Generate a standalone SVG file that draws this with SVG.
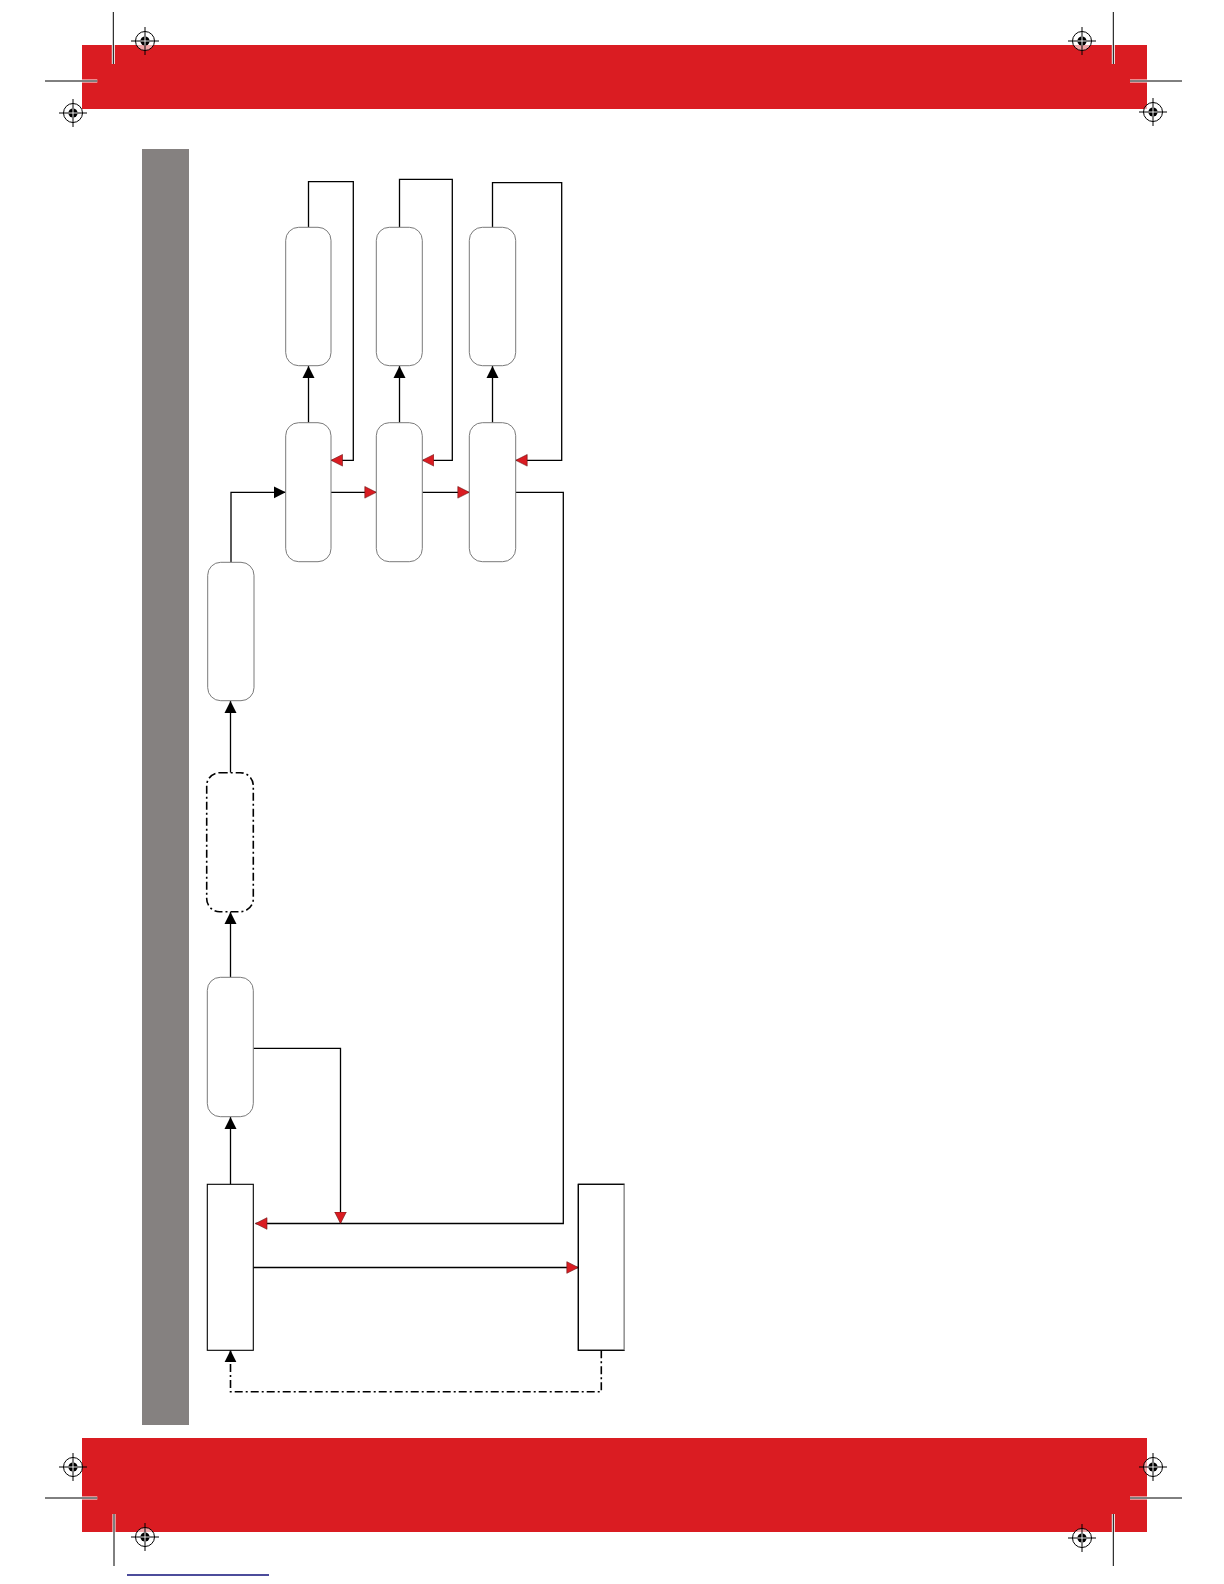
<svg xmlns="http://www.w3.org/2000/svg" xmlns:xlink="http://www.w3.org/1999/xlink" width="1224" height="1584" viewBox="0 0 1224 1584">
  <style>
    .band { fill: #DA1C22; }
    .crop { stroke: #000; stroke-width: 1; fill: none; }
    .halo { stroke: #fff; stroke-width: 3; fill: none; }
    .rnode { fill: #fff; stroke: #7a7a7a; stroke-width: 1; }
    .dnode { fill: #fff; stroke: #000; stroke-width: 1.6; stroke-dasharray: 8,3,2,3; }
    .box { fill: #fff; stroke: #000; stroke-width: 1.1; }
    .wire { fill: none; stroke: #000; stroke-width: 1.3; }
    .blk { marker-end: url(#ah); }
    .red { marker-end: url(#ahr); }
    .dd { stroke-dasharray: 8,3,2,3; stroke-width: 1.6; }
  </style>
  <defs>
    <marker id="ah" markerUnits="userSpaceOnUse" markerWidth="14" markerHeight="14" refX="12" refY="7" orient="auto" viewBox="0 0 14 14">
      <path d="M0,1 L12,7 L0,13 z" fill="#000"/>
    </marker>
    <marker id="ahr" markerUnits="userSpaceOnUse" markerWidth="14" markerHeight="14" refX="12" refY="7" orient="auto" viewBox="0 0 14 14">
      <path d="M0.5,1.2 L12,7 L0.5,12.8 z" fill="#DA1C22" stroke="#6b1414" stroke-width="0.6"/>
    </marker>
    <g id="reg">
      <circle r="9.5" fill="#fff" fill-opacity="0.6" stroke="#000" stroke-width="1"/>
      <line x1="-14" y1="0" x2="14" y2="0" stroke="#000" stroke-width="1"/>
      <line x1="0" y1="-14" x2="0" y2="14" stroke="#000" stroke-width="1"/>
      <circle r="4.6" fill="#000"/>
      <line x1="-4.6" y1="0" x2="4.6" y2="0" stroke="#fff" stroke-width="0.9"/>
      <line x1="0" y1="-4.6" x2="0" y2="4.6" stroke="#fff" stroke-width="0.9"/>
    </g>
  </defs>

  <rect width="1224" height="1584" fill="#fff"/>

  <!-- page frame -->
  <g id="header">
    <rect class="band" x="82" y="45" width="1065" height="64"/>
    <line class="halo" x1="113.3" y1="45" x2="113.3" y2="64"/>
    <line class="crop" x1="113.3" y1="12" x2="113.3" y2="64"/>
    <line class="halo" x1="82" y1="81" x2="97.3" y2="81"/>
    <line class="crop" x1="45" y1="81" x2="97.3" y2="81"/>
    <line class="halo" x1="1113.3" y1="45" x2="1113.3" y2="64"/>
    <line class="crop" x1="1113.3" y1="12" x2="1113.3" y2="64"/>
    <line class="halo" x1="1130" y1="81" x2="1147" y2="81"/>
    <line class="crop" x1="1130" y1="81" x2="1182" y2="81"/>
    <use xlink:href="#reg" href="#reg" x="145" y="41"/>
    <use xlink:href="#reg" href="#reg" x="73" y="113"/>
    <use xlink:href="#reg" href="#reg" x="1082" y="41"/>
    <use xlink:href="#reg" href="#reg" x="1153" y="112"/>
  </g>
  <g id="footer">
    <rect class="band" x="82" y="1438" width="1065" height="94"/>
    <line class="halo" x1="82" y1="1498" x2="97.3" y2="1498"/>
    <line class="crop" x1="45" y1="1498" x2="97.3" y2="1498"/>
    <line class="halo" x1="114" y1="1514" x2="114" y2="1532"/>
    <line class="crop" x1="114" y1="1514" x2="114" y2="1566"/>
    <line class="halo" x1="1130" y1="1498" x2="1147" y2="1498"/>
    <line class="crop" x1="1130" y1="1498" x2="1182" y2="1498"/>
    <line class="halo" x1="1113.3" y1="1514" x2="1113.3" y2="1532"/>
    <line class="crop" x1="1113.3" y1="1514" x2="1113.3" y2="1566"/>
    <use xlink:href="#reg" href="#reg" x="73" y="1467"/>
    <use xlink:href="#reg" href="#reg" x="145" y="1537"/>
    <use xlink:href="#reg" href="#reg" x="1153" y="1467"/>
    <use xlink:href="#reg" href="#reg" x="1082" y="1538"/>
    <line x1="127" y1="1575" x2="269" y2="1575" stroke="#10107a" stroke-width="1.3"/>
  </g>
  <rect id="sidebar" x="142" y="149" width="47" height="1276" fill="#858180"/>

  <!-- connectors -->
  <g id="connectors">
    <path class="wire blk" d="M230.5,1184.3 L230.5,1117"/>
    <path class="wire blk" d="M230.5,977.3 L230.5,912"/>
    <path class="wire blk" d="M230.5,772.7 L230.5,701"/>
    <path class="wire blk" d="M231,562.3 L231,492.3 L285.7,492.3"/>
    <path class="wire red" d="M331,492.3 L376.3,492.3"/>
    <path class="wire red" d="M422.3,492.3 L469.3,492.3"/>
    <path class="wire blk" d="M308.5,422.7 L308.5,366"/>
    <path class="wire blk" d="M399.5,422.7 L399.5,366"/>
    <path class="wire blk" d="M492.5,422.7 L492.5,366"/>
    <path class="wire red" d="M308.5,227.3 L308.5,181.7 L353.3,181.7 L353.3,460.3 L331,460.3"/>
    <path class="wire red" d="M399.5,227.3 L399.5,179.3 L452.3,179.3 L452.3,460.3 L422.3,460.3"/>
    <path class="wire red" d="M492.5,227.3 L492.5,182.7 L561.7,182.7 L561.7,460.3 L515.7,460.3"/>
    <path class="wire red" d="M515.7,492.3 L563.3,492.3 L563.3,1223.5 L255.5,1223.5"/>
    <path class="wire red" d="M253.3,1048.3 L340.5,1048.3 L340.5,1223.5"/>
    <path class="wire red" d="M253.3,1267.5 L578.3,1267.5"/>
    <path class="wire blk dd" d="M601.3,1350.3 L601.3,1391.7 L230.5,1391.7 L230.5,1350.3"/>
  </g>

  <!-- nodes -->
  <g id="node-t1"><rect class="rnode" x="285.7" y="227.3" width="45.3" height="138.4" rx="13"/></g>
  <g id="node-t2"><rect class="rnode" x="376.3" y="227.3" width="46" height="138.4" rx="13"/></g>
  <g id="node-t3"><rect class="rnode" x="469.3" y="227.3" width="46.4" height="138.4" rx="13"/></g>
  <g id="node-m1"><rect class="rnode" x="285.7" y="422.7" width="45.3" height="139" rx="13"/></g>
  <g id="node-m2"><rect class="rnode" x="376.3" y="422.7" width="46" height="139" rx="13"/></g>
  <g id="node-m3"><rect class="rnode" x="469.3" y="422.7" width="46.4" height="139" rx="13"/></g>
  <g id="node-a"><rect class="rnode" x="207.7" y="562.3" width="46.3" height="138.4" rx="13"/></g>
  <g id="node-d"><rect class="dnode" x="206.7" y="772.7" width="46.6" height="139" rx="13"/></g>
  <g id="node-b"><rect class="rnode" x="207.3" y="977.3" width="46" height="139.4" rx="13"/></g>
  <g id="node-left"><rect class="box" x="207.3" y="1184.3" width="46" height="166"/></g>
  <g id="node-right">
    <rect class="box" x="578.3" y="1184.3" width="46" height="166" stroke="none"/>
    <path d="M624.3,1184.3 L578.3,1184.3 L578.3,1350.3 L624.3,1350.3" fill="none" stroke="#000" stroke-width="1.1"/>
    <line x1="624.3" y1="1184.3" x2="624.3" y2="1350.3" stroke="#b5b5b5" stroke-width="1"/>
  </g>
</svg>
